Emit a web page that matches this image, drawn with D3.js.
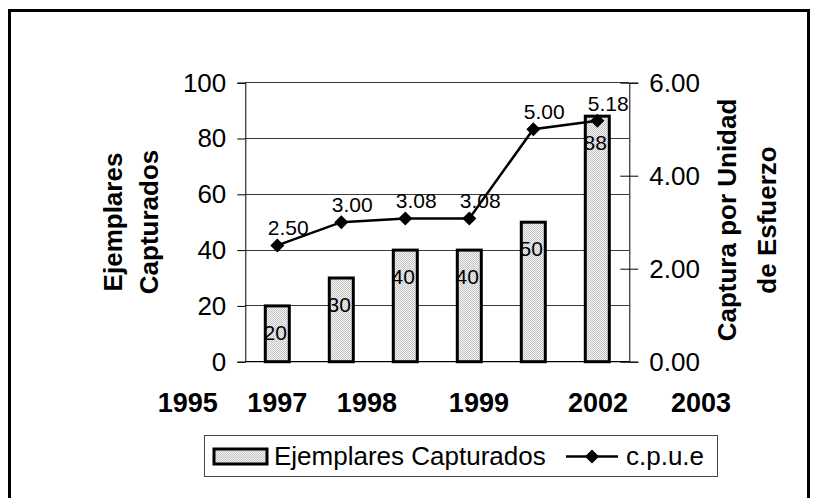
<!DOCTYPE html>
<html>
<head>
<meta charset="utf-8">
<script src="https://cdn.jsdelivr.net/npm/d3@7"></script>
<style>
  html, body { margin: 0; padding: 0; background: #fff; }
  svg { display: block; font-family: "Liberation Sans", Arial, sans-serif; }
</style>
</head>
<body>
<svg id="chart" width="817" height="498"></svg>
<script>
// ---- data ----
const categories = ["c1", "c2", "c3", "c4", "c5", "c6"];
const ejemplares = [20, 30, 40, 40, 50, 88];
const cpue = [2.50, 3.00, 3.08, 3.08, 5.00, 5.18];
const leftTicks = [0, 20, 40, 60, 80, 100];
const rightTicks = [0, 2, 4, 6];
const yearLabels = ["1995", "1997", "1998", "1999", "2002", "2003"];
const yearSlots = [-1.4, 0, 1.4, 3.15, 5.01, 6.62]; // in category-slot units
const barSeriesName = "Ejemplares Capturados";
const lineSeriesName = "c.p.u.e";

// ---- layout ----
const svg = d3.select("#chart");
const plot = { left: 245.3, right: 629.3, top: 82.7, bottom: 361.7 };

const defs = svg.append("defs");
const pat = defs.append("pattern").attr("id", "stipple")
  .attr("patternUnits", "userSpaceOnUse").attr("width", 2).attr("height", 2);
pat.append("rect").attr("width", 2).attr("height", 2).attr("fill", "#f4f4f4");
pat.append("rect").attr("x", 0).attr("y", 0).attr("width", 1).attr("height", 1).attr("fill", "#c4c4c4");
pat.append("rect").attr("x", 1).attr("y", 1).attr("width", 1).attr("height", 1).attr("fill", "#c4c4c4");

// outer frame
svg.append("rect").attr("x", 9.5).attr("y", 10.5).attr("width", 799).attr("height", 520)
  .attr("fill", "none").attr("stroke", "#000").attr("stroke-width", 3);

const x = d3.scaleBand().domain(categories).range([plot.left, plot.right])
  .paddingInner(0.625).paddingOuter(0.3125);
const yL = d3.scaleLinear().domain([0, 100]).range([plot.bottom, plot.top]);
const yR = d3.scaleLinear().domain([0, 6]).range([plot.bottom, plot.top]);
const center = c => x(c) + x.bandwidth() / 2;
const slot = d3.scaleLinear().domain([0, 1])
  .range([center(categories[0]), center(categories[1])]);

// gridlines
svg.append("g").selectAll("line").data(leftTicks.filter(d => d > 0)).join("line")
  .attr("x1", plot.left).attr("x2", plot.right)
  .attr("y1", d => yL(d)).attr("y2", d => yL(d))
  .attr("stroke", "#3a3a3a").attr("stroke-width", 1).attr("shape-rendering", "crispEdges");

// left axis
const axL = svg.append("g").attr("transform", `translate(${plot.left},0)`)
  .call(d3.axisLeft(yL).tickValues(leftTicks).tickSize(8).tickPadding(11).tickFormat(d3.format("d")));
axL.select(".domain").attr("stroke", "#000").attr("stroke-width", 1);
axL.selectAll(".tick line").attr("stroke", "#000");
axL.selectAll("text").attr("font-size", 26).attr("font-family", "Liberation Sans, Arial, sans-serif").attr("fill", "#000");

// right axis (crossing ticks)
const axR = svg.append("g").attr("transform", `translate(${plot.right},0)`)
  .call(d3.axisRight(yR).tickValues(rightTicks).tickSize(9).tickPadding(11).tickFormat(d3.format(".2f")));
axR.select(".domain").attr("stroke", "#000").attr("stroke-width", 1);
axR.selectAll(".tick line").attr("x1", -9).attr("stroke", "#000");
axR.selectAll("text").attr("font-size", 26).attr("font-family", "Liberation Sans, Arial, sans-serif").attr("fill", "#000");

// baseline
svg.append("line").attr("x1", plot.left).attr("x2", plot.right)
  .attr("y1", yL(0)).attr("y2", yL(0)).attr("stroke", "#000").attr("stroke-width", 1.2);

// bars
svg.append("g").selectAll("rect").data(ejemplares).join("rect")
  .attr("x", (d, i) => x(categories[i]))
  .attr("y", d => yL(d))
  .attr("width", x.bandwidth())
  .attr("height", d => yL(0) - yL(d))
  .attr("fill", "url(#stipple)").attr("stroke", "#000").attr("stroke-width", 3);

// bar labels
svg.append("g").selectAll("text").data(ejemplares).join("text")
  .attr("x", (d, i) => center(categories[i]) - 2)
  .attr("y", d => yL(d) + 34)
  .attr("text-anchor", "middle").attr("font-size", 21).attr("fill", "#000")
  .text(d => d);

// line
const line = d3.line().x((d, i) => center(categories[i])).y(d => yR(d));
svg.append("path").datum(cpue).attr("d", line)
  .attr("fill", "none").attr("stroke", "#000").attr("stroke-width", 2.5);

const diamondType = { draw(ctx, size) { const r = Math.sqrt(size) / 2; ctx.moveTo(0, -r); ctx.lineTo(r, 0); ctx.lineTo(0, r); ctx.lineTo(-r, 0); ctx.closePath(); } };
const diamond = d3.symbol().type(diamondType).size(196);
svg.append("g").selectAll("path").data(cpue).join("path")
  .attr("transform", (d, i) => `translate(${center(categories[i])},${yR(d)})`)
  .attr("d", diamond).attr("fill", "#000");

// line labels
svg.append("g").selectAll("text").data(cpue).join("text")
  .attr("x", (d, i) => center(categories[i]) + 11)
  .attr("y", d => yR(d) - 10)
  .attr("text-anchor", "middle").attr("font-size", 21).attr("fill", "#000")
  .text(d => d3.format(".2f")(d));

// year labels
svg.append("g").selectAll("text").data(yearLabels).join("text")
  .attr("x", (d, i) => slot(yearSlots[i]))
  .attr("y", 412)
  .attr("text-anchor", "middle").attr("font-size", 27).attr("font-weight", "bold").attr("fill", "#000")
  .text(d => d);

// axis titles
const leftTitle = svg.append("text").attr("transform", "translate(0,222) rotate(-90)")
  .attr("text-anchor", "middle").attr("font-size", 26).attr("font-weight", "bold").attr("fill", "#000");
leftTitle.append("tspan").attr("x", 0).attr("y", 122).text("Ejemplares");
leftTitle.append("tspan").attr("x", 0).attr("y", 158).text("Capturados");

const rightTitle = svg.append("text").attr("transform", "translate(0,220) rotate(-90)")
  .attr("text-anchor", "middle").attr("font-size", 26).attr("font-weight", "bold").attr("fill", "#000");
rightTitle.append("tspan").attr("x", 0).attr("y", 736).text("Captura por Unidad");
rightTitle.append("tspan").attr("x", 0).attr("y", 776).text("de Esfuerzo");

// legend
const lg = svg.append("g");
lg.append("rect").attr("x", 204.5).attr("y", 435.5).attr("width", 513).attr("height", 41)
  .attr("fill", "#fff").attr("stroke", "#444").attr("stroke-width", 1);
lg.append("rect").attr("x", 214).attr("y", 449).attr("width", 53).attr("height", 15)
  .attr("fill", "url(#stipple)").attr("stroke", "#000").attr("stroke-width", 3);
lg.append("text").attr("x", 274).attr("y", 465).attr("font-size", 26).attr("fill", "#000").text(barSeriesName);
lg.append("line").attr("x1", 566).attr("x2", 618).attr("y1", 456.5).attr("y2", 456.5)
  .attr("stroke", "#000").attr("stroke-width", 2.5);
lg.append("path").attr("transform", "translate(592,456.5)").attr("d", diamond).attr("fill", "#000");
lg.append("text").attr("x", 626).attr("y", 465).attr("font-size", 26).attr("fill", "#000").text(lineSeriesName);
</script>
</body>
</html>
